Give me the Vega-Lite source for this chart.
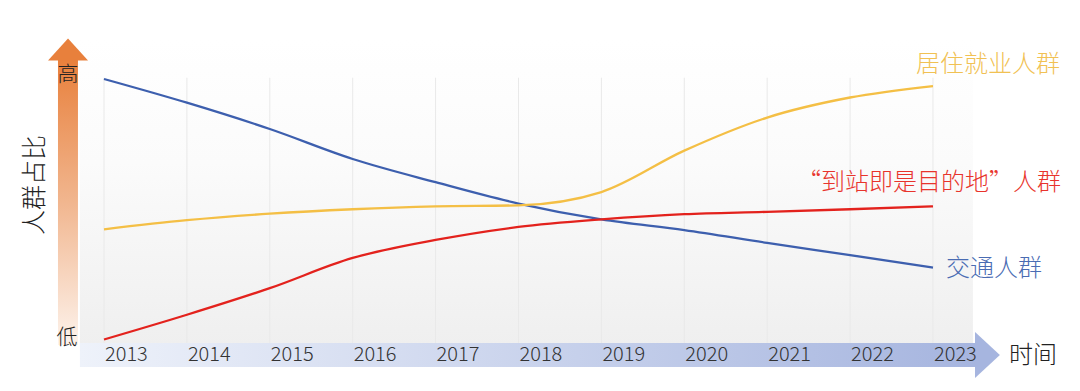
{
  "$schema": "https://vega.github.io/schema/vega-lite/v6.json",
  "width": 1080,
  "height": 391,
  "autosize": {"type": "none"},
  "padding": 0,
  "background": "white",
  "config": {"view": {"stroke": null}, "text": {"font": "Noto Sans CJK SC", "fontWeight": 300}},
  "datasets": {
    "lines": [
      {"year": 2013, "series": "交通人群", "value": 100},
      {"year": 2014, "series": "交通人群", "value": 90.9},
      {"year": 2015, "series": "交通人群", "value": 80.8},
      {"year": 2016, "series": "交通人群", "value": 69.3},
      {"year": 2017, "series": "交通人群", "value": 60.4},
      {"year": 2018, "series": "交通人群", "value": 52.2},
      {"year": 2019, "series": "交通人群", "value": 46.1},
      {"year": 2020, "series": "交通人群", "value": 42.0},
      {"year": 2021, "series": "交通人群", "value": 37.1},
      {"year": 2022, "series": "交通人群", "value": 32.4},
      {"year": 2023, "series": "交通人群", "value": 27.6},
      {"year": 2013, "series": "居住就业人群", "value": 42.3},
      {"year": 2014, "series": "居住就业人群", "value": 45.8},
      {"year": 2015, "series": "居住就业人群", "value": 48.3},
      {"year": 2016, "series": "居住就业人群", "value": 50.0},
      {"year": 2017, "series": "居住就业人群", "value": 51.1},
      {"year": 2018, "series": "居住就业人群", "value": 51.5},
      {"year": 2019, "series": "居住就业人群", "value": 56.6},
      {"year": 2020, "series": "居住就业人群", "value": 72.5},
      {"year": 2021, "series": "居住就业人群", "value": 85.2},
      {"year": 2022, "series": "居住就业人群", "value": 92.9},
      {"year": 2023, "series": "居住就业人群", "value": 97.3},
      {"year": 2013, "series": "“到站即是目的地”人群", "value": 0},
      {"year": 2014, "series": "“到站即是目的地”人群", "value": 9.5},
      {"year": 2015, "series": "“到站即是目的地”人群", "value": 19.7},
      {"year": 2016, "series": "“到站即是目的地”人群", "value": 31.3},
      {"year": 2017, "series": "“到站即是目的地”人群", "value": 38.2},
      {"year": 2018, "series": "“到站即是目的地”人群", "value": 43.2},
      {"year": 2019, "series": "“到站即是目的地”人群", "value": 46.1},
      {"year": 2020, "series": "“到站即是目的地”人群", "value": 48.1},
      {"year": 2021, "series": "“到站即是目的地”人群", "value": 49.0},
      {"year": 2022, "series": "“到站即是目的地”人群", "value": 50.0},
      {"year": 2023, "series": "“到站即是目的地”人群", "value": 51.1}
    ],
    "years": [
      {"year": 2013}, {"year": 2014}, {"year": 2015}, {"year": 2016}, {"year": 2017}, {"year": 2018},
      {"year": 2019}, {"year": 2020}, {"year": 2021}, {"year": 2022}, {"year": 2023}
    ],
    "one": [{}]
  },
  "layer": [
    {
      "data": {"name": "one"},
      "mark": {"type": "rect", "fill": {"gradient": "linear", "x1": 0, "y1": 0, "x2": 0, "y2": 1, "stops": [{"offset": 0, "color": "#ffffff"}, {"offset": 0.4, "color": "#fbfbfb"}, {"offset": 1, "color": "#efefef"}]}},
      "encoding": {
        "x": {"datum": 2012.71, "type": "quantitative", "scale": {"domain": [2011.7455, 2024.7735], "nice": false, "zero": false}, "axis": null},
        "x2": {"datum": 2023.482},
        "y": {"datum": 115.0, "type": "quantitative", "scale": {"domain": [-19.77, 130.33], "nice": false, "zero": false}, "axis": null},
        "y2": {"datum": -2.11}
      }
    },
    {
      "data": {"name": "years"},
      "mark": {"type": "rule", "color": "#e9e9e9", "strokeWidth": 1},
      "encoding": {
        "x": {"field": "year", "type": "quantitative", "scale": {"domain": [2011.7455, 2024.7735], "nice": false, "zero": false}, "axis": null},
        "y": {"datum": 100.5, "type": "quantitative", "scale": {"domain": [-19.77, 130.33], "nice": false, "zero": false}, "axis": null},
        "y2": {"datum": -2.11}
      }
    },
    {
      "data": {"name": "one"},
      "mark": {"type": "rect", "fill": {"gradient": "linear", "x1": 0, "y1": 0, "x2": 0, "y2": 1, "stops": [{"offset": 0, "color": "#e8803c"}, {"offset": 0.5, "color": "#f1b68f"}, {"offset": 1, "color": "#fdf3ec"}]}},
      "encoding": {
        "x": {"datum": 2012.445, "type": "quantitative", "scale": {"domain": [2011.7455, 2024.7735], "nice": false, "zero": false}, "axis": null},
        "x2": {"datum": 2012.686},
        "y": {"datum": 107.3, "type": "quantitative", "scale": {"domain": [-19.77, 130.33], "nice": false, "zero": false}, "axis": null},
        "y2": {"datum": -2.11}
      }
    },
    {
      "data": {"name": "one"},
      "mark": {"type": "point", "shape": "M-1,0.55L0,-0.55L1,0.55Z", "filled": true, "size": 1600, "color": "#e8803c", "opacity": 1, "strokeWidth": 0},
      "encoding": {
        "x": {"datum": 2012.566, "type": "quantitative", "scale": {"domain": [2011.7455, 2024.7735], "nice": false, "zero": false}, "axis": null},
        "y": {"datum": 111.3, "type": "quantitative", "scale": {"domain": [-19.77, 130.33], "nice": false, "zero": false}, "axis": null}
      }
    },
    {
      "data": {"name": "one"},
      "mark": {"type": "rect", "fill": {"gradient": "linear", "x1": 0, "y1": 0, "x2": 1, "y2": 0, "stops": [{"offset": 0, "color": "#eef2fa"}, {"offset": 1, "color": "#a6b5df"}]}},
      "encoding": {
        "x": {"datum": 2012.71, "type": "quantitative", "scale": {"domain": [2011.7455, 2024.7735], "nice": false, "zero": false}, "axis": null},
        "x2": {"datum": 2023.507},
        "y": {"datum": -1.34, "type": "quantitative", "scale": {"domain": [-19.77, 130.33], "nice": false, "zero": false}, "axis": null},
        "y2": {"datum": -10.56}
      }
    },
    {
      "data": {"name": "one"},
      "mark": {"type": "point", "shape": "M-0.54,-1L0.54,0L-0.54,1Z", "filled": true, "size": 2116, "color": "#a6b5df", "opacity": 1, "strokeWidth": 0},
      "encoding": {
        "x": {"datum": 2023.657, "type": "quantitative", "scale": {"domain": [2011.7455, 2024.7735], "nice": false, "zero": false}, "axis": null},
        "y": {"datum": -5.95, "type": "quantitative", "scale": {"domain": [-19.77, 130.33], "nice": false, "zero": false}, "axis": null}
      }
    },
    {
      "data": {"name": "lines"},
      "mark": {"type": "line", "interpolate": "monotone", "strokeWidth": 2.3},
      "encoding": {
        "x": {"field": "year", "type": "quantitative", "scale": {"domain": [2011.7455, 2024.7735], "nice": false, "zero": false}, "axis": null},
        "y": {"field": "value", "type": "quantitative", "scale": {"domain": [-19.77, 130.33], "nice": false, "zero": false}, "axis": null},
        "color": {"field": "series", "type": "nominal", "scale": {"domain": ["交通人群", "居住就业人群", "“到站即是目的地”人群"], "range": ["#3d5fae", "#f4bf45", "#e3221d"]}, "legend": null}
      }
    },
    {
      "data": {"name": "years"},
      "mark": {"type": "text", "align": "left", "baseline": "middle", "dx": 1, "fontSize": 20, "color": "#333333"},
      "encoding": {
        "x": {"field": "year", "type": "quantitative", "scale": {"domain": [2011.7455, 2024.7735], "nice": false, "zero": false}, "axis": null},
        "y": {"datum": -5.95, "type": "quantitative", "scale": {"domain": [-19.77, 130.33], "nice": false, "zero": false}, "axis": null},
        "text": {"field": "year", "type": "nominal"}
      }
    },
    {
      "data": {"name": "lines"},
      "transform": [{"filter": "datum.year === 2023 && datum.series === '居住就业人群'"}],
      "mark": {"type": "text", "align": "center", "baseline": "middle", "dx": 55, "dy": -21, "fontSize": 24, "color": "#f1c153"},
      "encoding": {
        "x": {"field": "year", "type": "quantitative", "scale": {"domain": [2011.7455, 2024.7735], "nice": false, "zero": false}, "axis": null},
        "y": {"field": "value", "type": "quantitative", "scale": {"domain": [-19.77, 130.33], "nice": false, "zero": false}, "axis": null},
        "text": {"field": "series", "type": "nominal"}
      }
    },
    {
      "data": {"name": "lines"},
      "transform": [{"filter": "datum.year === 2023 && datum.series === '“到站即是目的地”人群'"}],
      "mark": {"type": "text", "align": "center", "baseline": "middle", "dx": -4, "dy": -23, "fontSize": 24, "color": "#e8342c"},
      "encoding": {
        "x": {"field": "year", "type": "quantitative", "scale": {"domain": [2011.7455, 2024.7735], "nice": false, "zero": false}, "axis": null},
        "y": {"field": "value", "type": "quantitative", "scale": {"domain": [-19.77, 130.33], "nice": false, "zero": false}, "axis": null},
        "text": {"field": "series", "type": "nominal"}
      }
    },
    {
      "data": {"name": "lines"},
      "transform": [{"filter": "datum.year === 2023 && datum.series === '交通人群'"}],
      "mark": {"type": "text", "align": "left", "baseline": "middle", "dx": 13, "dy": 1, "fontSize": 24, "color": "#4a6cb3"},
      "encoding": {
        "x": {"field": "year", "type": "quantitative", "scale": {"domain": [2011.7455, 2024.7735], "nice": false, "zero": false}, "axis": null},
        "y": {"field": "value", "type": "quantitative", "scale": {"domain": [-19.77, 130.33], "nice": false, "zero": false}, "axis": null},
        "text": {"field": "series", "type": "nominal"}
      }
    },
    {
      "data": {"name": "one"},
      "mark": {"type": "text", "align": "center", "baseline": "middle", "fontSize": 21, "color": "#222222", "text": "高"},
      "encoding": {
        "x": {"datum": 2012.566, "type": "quantitative", "scale": {"domain": [2011.7455, 2024.7735], "nice": false, "zero": false}, "axis": null},
        "y": {"datum": 101.5, "type": "quantitative", "scale": {"domain": [-19.77, 130.33], "nice": false, "zero": false}, "axis": null}
      }
    },
    {
      "data": {"name": "one"},
      "mark": {"type": "text", "align": "center", "baseline": "middle", "fontSize": 21, "color": "#222222", "text": "低"},
      "encoding": {
        "x": {"datum": 2012.554, "type": "quantitative", "scale": {"domain": [2011.7455, 2024.7735], "nice": false, "zero": false}, "axis": null},
        "y": {"datum": 0.58, "type": "quantitative", "scale": {"domain": [-19.77, 130.33], "nice": false, "zero": false}, "axis": null}
      }
    },
    {
      "data": {"name": "one"},
      "mark": {"type": "text", "align": "center", "baseline": "middle", "fontSize": 25, "angle": 270, "color": "#222222", "text": "人群占比"},
      "encoding": {
        "x": {"datum": 2012.168, "type": "quantitative", "scale": {"domain": [2011.7455, 2024.7735], "nice": false, "zero": false}, "axis": null},
        "y": {"datum": 59.3, "type": "quantitative", "scale": {"domain": [-19.77, 130.33], "nice": false, "zero": false}, "axis": null}
      }
    },
    {
      "data": {"name": "one"},
      "mark": {"type": "text", "align": "center", "baseline": "middle", "fontSize": 24, "color": "#222222", "text": "时间"},
      "encoding": {
        "x": {"datum": 2024.206, "type": "quantitative", "scale": {"domain": [2011.7455, 2024.7735], "nice": false, "zero": false}, "axis": null},
        "y": {"datum": -6.3, "type": "quantitative", "scale": {"domain": [-19.77, 130.33], "nice": false, "zero": false}, "axis": null}
      }
    }
  ]
}
